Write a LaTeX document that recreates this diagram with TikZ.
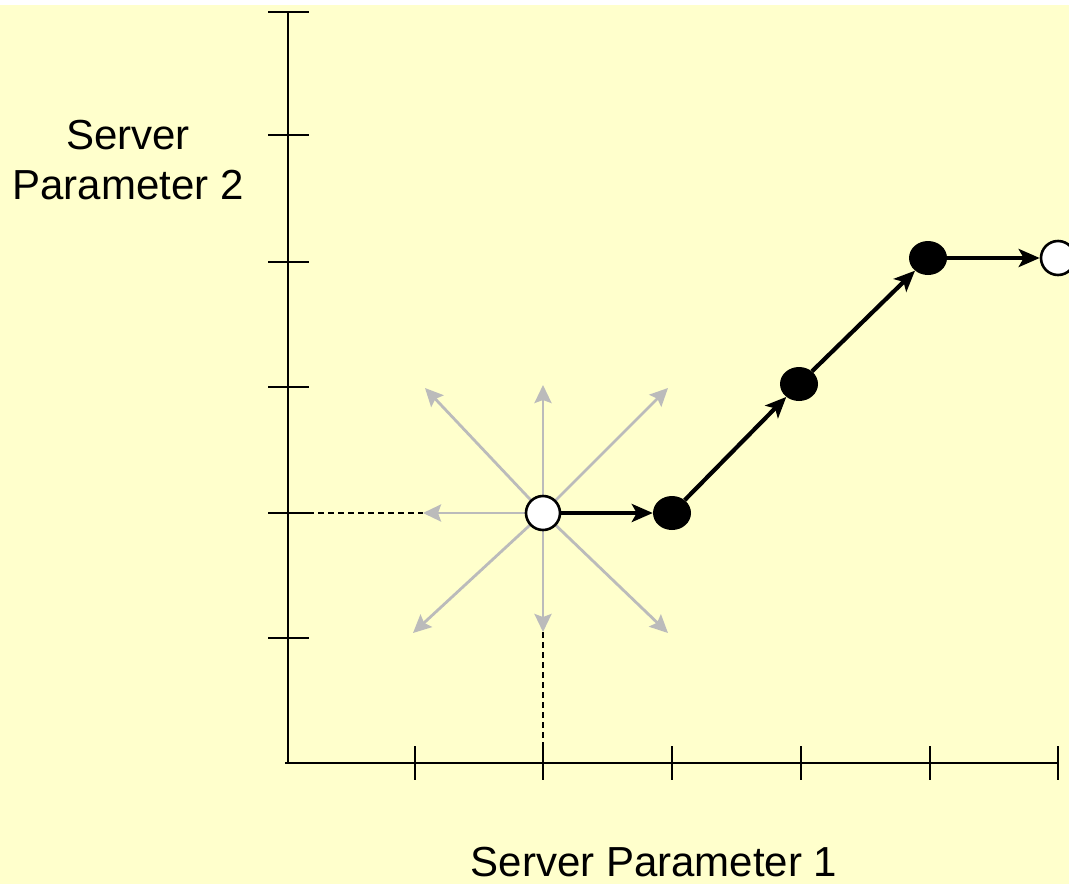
\documentclass[tikz,border=0pt]{standalone}
\usepackage{fontspec}
\setmainfont{Liberation Sans}
\usetikzlibrary{arrows.meta,positioning,shapes.geometric}
\definecolor{Paper}{HTML}{FFFFCC}
\definecolor{Ink}{HTML}{000000}
\definecolor{Probe}{HTML}{BBBBBB}

\begin{document}
\begin{tikzpicture}[x=1pt,y=-1pt,
    axis/.style={line width=2.7pt,Ink},
    probe/.style={line width=2.8pt,Probe,-{Stealth[length=18pt,width=17pt,inset=3pt]}},
    move/.style={line width=4.2pt,Ink,-{Stealth[length=21pt,width=18pt,inset=5pt]}},
    guide/.style={line width=2.4pt,Ink,dash pattern=on 6pt off 4pt},
    opendot/.style={circle,draw=Ink,fill=white,line width=2.6pt,minimum size=34pt,inner sep=0pt},
    fulldot/.style={ellipse,fill=Ink,minimum width=38pt,minimum height=34pt,inner sep=0pt},
    axlabel/.style={font=\fontsize{42}{50}\selectfont,text=Ink,align=center}]
  \useasboundingbox (0,0) rectangle (1069,884);
  \fill[white] (0,0) rectangle (1069,884);
  \fill[Paper] (0,5) rectangle (1069,884);

  % axes and ticks
  \draw[axis] (288,12) -- (288,763);
  \draw[axis] (285,763) -- (1058,763);
  \foreach \ty in {12,135,262,387,513,638}
    \draw[axis] (268,\ty) -- (309,\ty);
  \foreach \tx in {415,543,672,801,930,1058}
    \draw[axis] (\tx,746) -- (\tx,780);

  % probe directions round the start point
  \coordinate (c) at (543,513);
  \foreach \nm/\px/\py in {gN/543/385,gNW/425/388,gNE/668/388,gW/423/513,gS/543/632,gSW/413/633,gSE/668/633}{
    \coordinate (\nm) at (\px,\py);
    \draw[probe] (c) -- (\nm);
  }
  \coordinate (yk) at (288,513);
  \coordinate (xk) at (543,763);
  \draw[guide] (yk) -- (gW);
  \draw[guide] (gS) -- (xk);

  % search path
  \node[opendot] (p0) at (543,513) {};
  \node[fulldot] (p1) at (672,513) {};
  \node[fulldot] (p2) at (799,384) {};
  \node[fulldot] (p3) at (928,258) {};
  \node[opendot] (p4) at (1058,258) {};
  \foreach \a/\b in {p0/p1,p1/p2,p2/p3,p3/p4}
    \draw[move] (\a) -- (\b);

  \node[axlabel] (yLabel) at (128,160) {Server\\Parameter 2};
  \node[axlabel,anchor=base] (xLabel) at (654,876) {Server Parameter 1};
\end{tikzpicture}
\end{document}
